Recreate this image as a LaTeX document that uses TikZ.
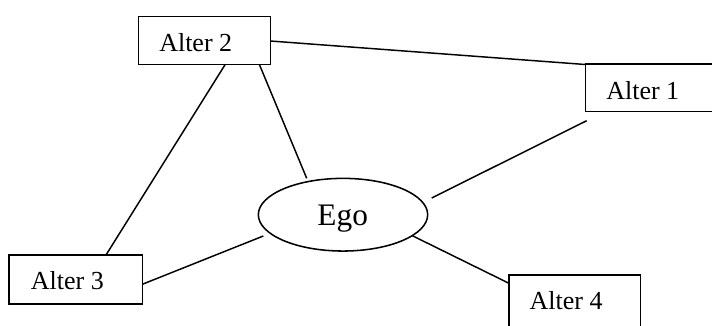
\documentclass[tikz,border=0pt]{standalone}
\usepackage{fontspec}
\setmainfont{Liberation Serif}
\usetikzlibrary{shapes.geometric}
\begin{document}
\begin{tikzpicture}[x=0.75pt,y=-0.75pt,
  box/.style={draw, line width=1.15pt, rectangle, inner sep=0pt},
  egoshape/.style={draw, line width=1.15pt, ellipse, inner sep=0pt},
  lbl/.style={anchor=base west, inner sep=0pt, font=\fontsize{19.5}{23}\selectfont},
  egolbl/.style={anchor=base, inner sep=0pt, font=\fontsize{23.5}{28}\selectfont},
  conn/.style={line width=1.1pt}]
\useasboundingbox (0,0) rectangle (712,325);
\clip (0,0) rectangle (712,325);
% boxes
\node[box, minimum width=99pt, minimum height=35.7pt] (a2) at (204.3,40.5) {};
\node[box, minimum width=116pt, minimum height=35.8pt] (a1) at (662.6,87.85) {};
\node[box, minimum width=100pt, minimum height=36.8pt] (a3) at (75.65,279.5) {};
\node[box, minimum width=98.8pt, minimum height=45pt] (a4) at (574.85,305) {};
\node[egoshape, minimum width=127pt, minimum height=54.5pt] (ego) at (343,214.7) {};
% labels
\node[lbl] (t2) at (159,51.7) {Alter 2};
\node[lbl] (t1) at (606,99) {Alter 1};
\node[lbl] (t3) at (30.7,289.3) {Alter 3};
\node[lbl] (t4) at (529.3,309.3) {Alter 4};
\node[egolbl] (te) at (342.7,225) {Ego};
% connector end points
\coordinate (p1a) at (270.3,41);    \coordinate (p1b) at (585.3,64.5);
\coordinate (p2a) at (586.7,120.7); \coordinate (p2b) at (431.7,198);
\coordinate (p3a) at (259.3,64.3);  \coordinate (p3b) at (306.7,178.3);
\coordinate (p4a) at (225.3,64.3);  \coordinate (p4b) at (106,255);
\coordinate (p5a) at (263.3,236);   \coordinate (p5b) at (142.3,284.3);
\coordinate (p6a) at (412.3,235.7); \coordinate (p6b) at (509,283.3);
% connectors
\draw[conn] (p1a) -- (p1b);
\draw[conn] (p2a) -- (p2b);
\draw[conn] (p3a) -- (p3b);
\draw[conn] (p4a) -- (p4b);
\draw[conn] (p5a) -- (p5b);
\draw[conn] (p6a) -- (p6b);
\end{tikzpicture}
\end{document}
